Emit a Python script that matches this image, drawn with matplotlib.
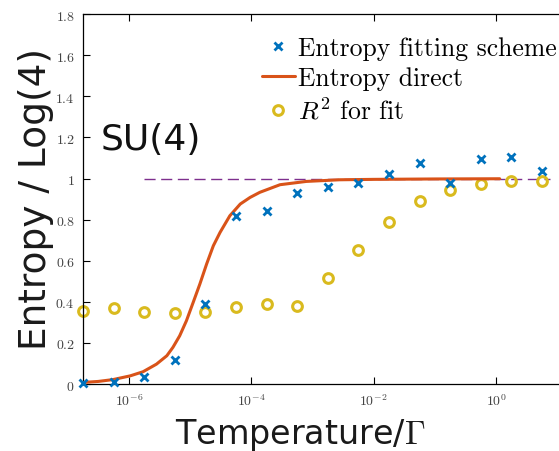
import matplotlib
matplotlib.use("Agg")
import matplotlib.pyplot as plt
import numpy as np
from matplotlib.ticker import FuncFormatter, FixedLocator

plt.rcParams['mathtext.fontset'] = 'cm'

# fitted entropy (crosses) and R^2 of the fit (circles), half-decade temperature grid
T_log = [-6.75, -6.25, -5.75, -5.25, -4.75, -4.25, -3.75, -3.25,
         -2.75, -2.25, -1.75, -1.25, -0.75, -0.25, 0.25, 0.75]
S_fit = [0.005, 0.01, 0.034, 0.117, 0.39, 0.82, 0.84, 0.93,
         0.96, 0.98, 1.02, 1.075, 0.98, 1.095, 1.105, 1.035]
R2_fit = [0.355, 0.37, 0.35, 0.345, 0.35, 0.375, 0.39, 0.38,
          0.515, 0.65, 0.79, 0.89, 0.945, 0.975, 0.99, 0.99]

# direct entropy curve
T_direct_log = [-6.75, -6.5, -6.26, -5.98, -5.77, -5.55, -5.38, -5.28, -5.17,
                -5.06, -4.95, -4.84, -4.73, -4.62, -4.51, -4.35, -4.18,
                -4.02, -3.86, -3.53, -3.10, -2.56, -2.0, -1.0, 0.06]
S_direct = [0.008, 0.013, 0.022, 0.040, 0.060, 0.097, 0.138, 0.179, 0.235,
            0.308, 0.397, 0.487, 0.584, 0.673, 0.738, 0.819, 0.876,
            0.908, 0.933, 0.970, 0.986, 0.994, 0.996, 0.998, 0.999]

ref_T = [10**-5.75, 10**0.88]
ref_S = [1.0, 1.0]

T = 10**np.array(T_log)
T_direct = 10**np.array(T_direct_log)

fig = plt.figure(figsize=(5.59, 4.52), dpi=100)
ax = fig.add_axes([0.1485, 0.148, 0.903, 0.8186])

ax.plot(ref_T, ref_S, ls=(0, (8, 4)), color='#7E2F8E', lw=1.0, zorder=1)
ax.plot(T, S_fit, 'x', color='#0072BD', ms=6, mew=2, label='Entropy fitting scheme',
        zorder=4, clip_on=False)
ax.plot(T_direct, S_direct, '-', color='#D95319', lw=2.2, label='Entropy direct',
        zorder=3, solid_capstyle='round')
ax.plot(T, R2_fit, 'o', mfc='none', mec='#D9BA1E', ms=7, mew=2.2, label='$R^2$ for fit',
        zorder=2, clip_on=False)

ax.set_xscale('log')
ax.set_xlim(10**-6.75, 10**1.5)
ax.set_ylim(0, 1.8)
ax.xaxis.set_major_locator(FixedLocator([1e-6, 1e-4, 1e-2, 1e0]))
ax.xaxis.set_minor_locator(FixedLocator([]))
ax.xaxis.set_major_formatter(FuncFormatter(lambda v, p: r'$10^{%d}$' % round(np.log10(v))))
ax.set_yticks(np.arange(0, 1.81, 0.2))
ax.yaxis.set_major_formatter(FuncFormatter(lambda v, p: r'$%g$' % round(v, 1)))
ax.tick_params(direction='in', length=5, width=0.8, top=True, right=True,
               labelsize=10, labelcolor='#444444', pad=6)
for sp in ax.spines.values():
    sp.set_linewidth(0.9)

ax.set_ylabel('Entropy / Log(4)', fontsize=27, family='DejaVu Sans',
              va='center', color='#1a1a1a')
ax.yaxis.set_label_coords(-0.094, 0.503)
ax.set_xlabel(r'Temperature/$\Gamma$', fontsize=24, family='DejaVu Sans',
              va='center', color='#1a1a1a')
ax.xaxis.set_label_coords(0.43, -0.135)

ax.text(0.034, 0.662, 'SU(4)', transform=ax.transAxes, fontsize=26,
        family='DejaVu Sans', va='center', ha='left', color='#111111')

ax.legend(loc='upper left', bbox_to_anchor=(0.354, 0.94), frameon=False,
          borderpad=0, borderaxespad=0, handlelength=1.3, handletextpad=0.1,
          labelspacing=0.26, prop={'family': 'cmr10', 'size': 18.5})

fig.savefig('out.png', dpi=100)
